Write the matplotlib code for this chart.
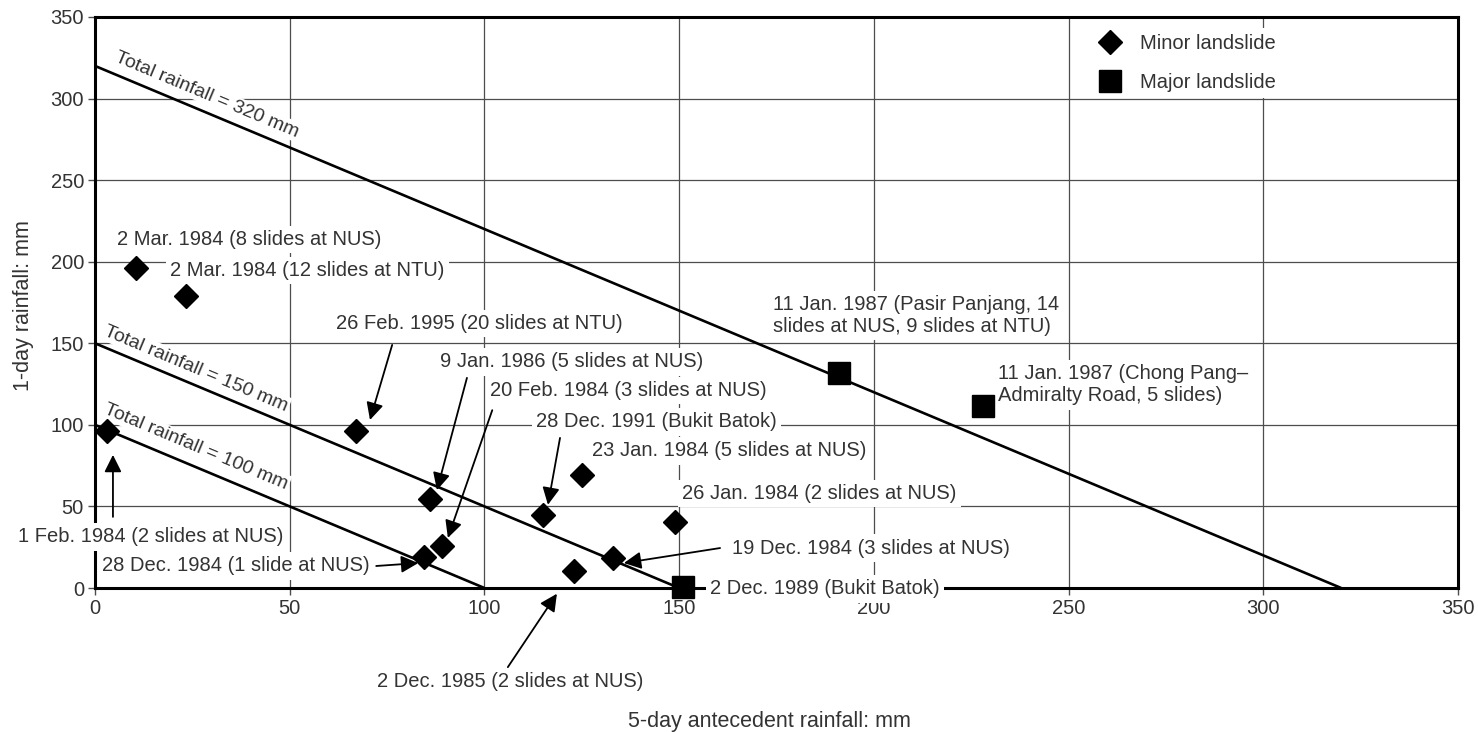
import numpy as np
import matplotlib
matplotlib.use("Agg")
import matplotlib.pyplot as plt
from matplotlib.lines import Line2D

plt.rcParams["font.family"] = ["Liberation Sans", "DejaVu Sans"]
TXT = "#333333"
FS = 14.5

# ── Data (5-day antecedent rainfall vs 1-day rainfall, mm) ───────────────────
minor_labels = ["1 Feb. 1984", "2 Mar. 1984 NUS", "2 Mar. 1984 NTU", "26 Feb. 1995",
                "9 Jan. 1986", "28 Dec. 1984", "20 Feb. 1984", "28 Dec. 1991",
                "23 Jan. 1984", "26 Jan. 1984", "19 Dec. 1984", "2 Dec. 1985"]
minor_x = [3, 10.5, 23.4, 67, 86, 84.5, 89, 115, 125, 149, 133, 123]
minor_y = [96, 196, 179, 96, 54.6, 19, 26, 45, 69, 40.5, 18.5, 10.5]

major_labels = ["2 Dec. 1989", "11 Jan. 1987 Pasir Panjang", "11 Jan. 1987 Chong Pang"]
major_x = [151, 191, 228]
major_y = [0.5, 132, 111.5]

totals = [320, 150, 100]
ticks = [0, 50, 100, 150, 200, 250, 300, 350]

# where each "Total rainfall" label starts along its line, and its lift above it
total_label_x = [5.4, 2.6, 2.6]
total_label_lift = [11.2, 10.3, 12.4]

# event labels: text, (x, y) of left/centre of text
notes = [
    ("2 Mar. 1984 (8 slides at NUS)", (5.6, 213.5)),
    ("2 Mar. 1984 (12 slides at NTU)", (19.3, 194.5)),
    ("26 Feb. 1995 (20 slides at NTU)", (61.9, 162)),
    ("9 Jan. 1986 (5 slides at NUS)", (88.6, 138.6)),
    ("20 Feb. 1984 (3 slides at NUS)", (101.4, 120.9)),
    ("28 Dec. 1991 (Bukit Batok)", (113.3, 101.8)),
    ("23 Jan. 1984 (5 slides at NUS)", (127.6, 84)),
    ("26 Jan. 1984 (2 slides at NUS)", (150.7, 58)),
    ("19 Dec. 1984 (3 slides at NUS)", (163.6, 24.5)),
    ("2 Dec. 1989 (Bukit Batok)", (158, -0.6)),
    ("2 Dec. 1985 (2 slides at NUS)", (72.4, -57)),
    ("1 Feb. 1984 (2 slides at NUS)", (-19.8, 31.3)),
    ("28 Dec. 1984 (1 slide at NUS)", (1.8, 13.5)),
    ("11 Jan. 1987 (Pasir Panjang, 14\nslides at NUS, 9 slides at NTU)", (174, 167)),
    ("11 Jan. 1987 (Chong Pang\u2013\nAdmiralty Road, 5 slides)", (231.9, 124.5)),
]

# leader arrows: tail -> head
arrows = [
    ((76.3, 149), (70.6, 103)),
    ((95.5, 128.8), (87.8, 60)),
    ((102, 109), (90.6, 30.7)),
    ((119.4, 92), (116.3, 51)),
    ((160.5, 24.5), (135.8, 15.3)),
    ((106, -48.5), (118.6, -3.5)),
    ((4.6, 43.6), (4.6, 81.6)),
    ((72.2, 13.5), (83, 15.3)),
]

# ── Figure ──────────────────────────────────────────────────────────────────
fig = plt.figure(figsize=(14.78, 7.32), dpi=100)
ax = fig.add_axes([0.0643, 0.1967, 0.9222, 0.7801])
ax.set_xlim(0, 350)
ax.set_ylim(0, 350)
ax.set_xticks(ticks)
ax.set_yticks(ticks)
ax.grid(True, color="0.3", lw=0.9, zorder=0)
ax.set_axisbelow(True)
for s in ax.spines.values():
    s.set_linewidth(2.2)
    s.set_color("black")
    s.set_zorder(2.5)
ax.tick_params(labelsize=FS, colors=TXT, length=5, width=1, pad=3)
ax.tick_params(axis="both", color="0.3")

# constant total-rainfall lines
for t, x0, lift in zip(totals, total_label_x, total_label_lift):
    ax.plot([0, t], [t, 0], color="black", lw=1.9, zorder=3.5, solid_capstyle="butt")
    ax.text(x0, t - x0 + lift, f"Total rainfall = {t} mm", rotation=-45,
            transform_rotates_text=True, rotation_mode="anchor",
            ha="left", va="center", fontsize=14, color=TXT, zorder=3,
            bbox=dict(fc="white", ec="none", pad=1))

for txt, (x, y) in notes:
    ax.text(x, y, txt, ha="left", va="center", fontsize=FS, color=TXT,
            linespacing=1.2, zorder=4, clip_on=False,
            bbox=dict(fc="white", ec="none", pad=3))

for tail, head in arrows:
    ax.annotate("", xy=head, xytext=tail, annotation_clip=False, zorder=4.5,
                arrowprops=dict(arrowstyle="-|>", color="black", lw=1.3,
                                mutation_scale=26, shrinkA=0, shrinkB=0))

ax.plot(minor_x, minor_y, "D", color="black", ms=12, zorder=5, clip_on=False)
ax.plot(major_x, major_y, "s", color="black", ms=16, zorder=5, clip_on=False)

handles = [Line2D([], [], ls="none", marker="D", color="black", ms=12),
           Line2D([], [], ls="none", marker="s", color="black", ms=16)]
leg = ax.legend(handles, ["Minor landslide", "Major landslide"], loc="upper left",
                bbox_to_anchor=(0.718, 0.998), frameon=True, fontsize=FS,
                facecolor="white", edgecolor="none", framealpha=1,
                handletextpad=0.5, labelspacing=1.0, borderpad=0.3)
leg.set_zorder(6)
for t in leg.get_texts():
    t.set_color(TXT)

fig.text(24 / 1478, 1 - 306 / 732, "1-day rainfall: mm", rotation=90,
         ha="center", va="center", fontsize=15.5, color=TXT)
fig.text(769 / 1478, 1 - 721 / 732, "5-day antecedent rainfall: mm",
         ha="center", va="center", fontsize=15.5, color=TXT)

fig.savefig("out.png", dpi=100, facecolor="white")
